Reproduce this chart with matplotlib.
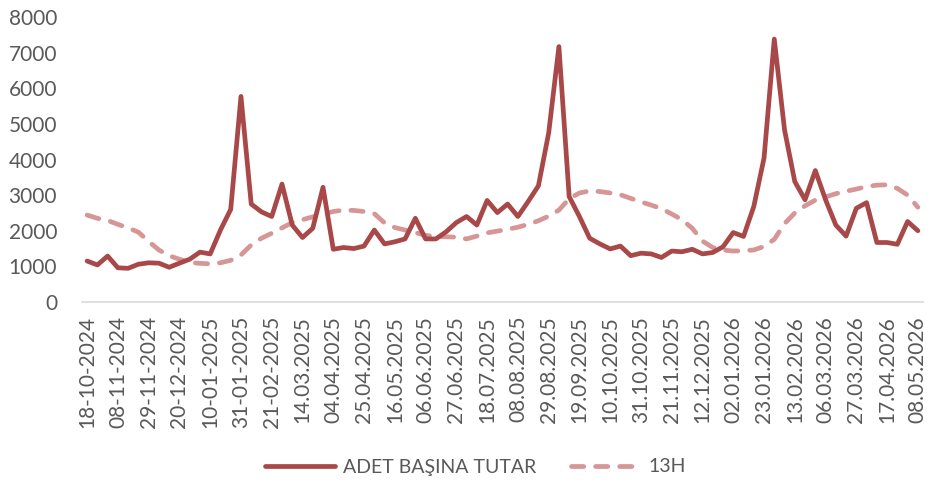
import matplotlib
matplotlib.use("Agg")
import matplotlib.pyplot as plt

adet_basina_tutar = [
    1150, 1040, 1290, 960, 945, 1060, 1100, 1090, 975, 1090,
    1200, 1400, 1350, 2020, 2600, 5770, 2750, 2530, 2400, 3310,
    2160, 1810, 2070, 3220, 1480, 1530, 1500, 1570, 2020, 1630,
    1690, 1770, 2350, 1770, 1770, 1970, 2230, 2400, 2160, 2850,
    2510, 2750, 2400, 2820, 3260, 4740, 7170, 2960, 2400, 1790,
    1630, 1490, 1570, 1300, 1370, 1350, 1250, 1430, 1410, 1480,
    1350, 1390, 1550, 1950, 1840, 2680, 4040, 7380, 4830, 3380,
    2870, 3690, 2870, 2160, 1850, 2630, 2790, 1670, 1670, 1620,
    2260, 2000,
]

h13 = [
    2440, 2350, 2290, 2180, 2080, 1960, 1700, 1460, 1300, 1200,
    1110, 1085, 1070, 1100, 1170, 1320, 1600, 1790, 1930, 2080,
    2230, 2310, 2390, 2470, 2540, 2580, 2570, 2540, 2480, 2220,
    2090, 2020, 1950, 1870, 1840, 1830, 1820, 1770, 1850, 1940,
    1990, 2040, 2100, 2180, 2280, 2410, 2580, 2900, 3060, 3120,
    3100, 3060, 3010, 2910, 2810, 2720, 2620, 2470, 2310, 2070,
    1710, 1530, 1460, 1430, 1440, 1460, 1560, 1760, 2200, 2500,
    2700, 2860, 2950, 3040, 3110, 3170, 3240, 3280, 3290, 3190,
    3000, 2660,
]

tick_labels = [
    "18-10-2024", "08-11-2024", "29-11-2024", "20-12-2024", "10-01-2025",
    "31-01-2025", "21-02-2025", "14.03.2025", "04.04.2025", "25.04.2025",
    "16.05.2025", "06.06.2025", "27.06.2025", "18.07.2025", "08.08.2025",
    "29.08.2025", "19.09.2025", "10.10.2025", "31.10.2025", "21.11.2025",
    "12.12.2025", "02.01.2026", "23.01.2026", "13.02.2026", "06.03.2026",
    "27.03.2026", "17.04.2026", "08.05.2026",
]

series_names = ["ADET BAŞINA TUTAR", "13H"]

plt.rcParams['font.family'] = ['Lato', 'DejaVu Sans']

fig = plt.figure(figsize=(9.32, 4.82), dpi=100)
ax = fig.add_axes([82/932, 1 - 302/482, (923 - 82)/932, (302 - 17)/482])

x = list(range(len(adet_basina_tutar)))
ax.plot(x, adet_basina_tutar, color='#A84848', linewidth=3.4,
        solid_joinstyle='round', solid_capstyle='round', label=series_names[0], zorder=3)
ax.plot(x, h13, color='#D69696', linewidth=3.4, linestyle=(0, (2.6, 2.5)),
        dash_capstyle='round', label=series_names[1], zorder=2)

ax.set_xlim(-0.5, len(x) - 0.5)
ax.set_ylim(0, 8000)
ax.set_yticks(range(0, 8001, 1000))
ax.set_xticks(list(range(0, len(x), 3)))
ax.set_xticklabels(tick_labels, rotation=90)

for s in ['top', 'right', 'left']:
    ax.spines[s].set_visible(False)
ax.spines['bottom'].set_color('#D9D9D9')
ax.spines['bottom'].set_linewidth(1.2)

ax.tick_params(axis='both', length=0, labelsize=15, labelcolor='#595959')
ax.tick_params(axis='y', pad=18)
ax.tick_params(axis='x', pad=10)

leg = fig.legend(loc='center', bbox_to_anchor=(0.51, 1 - 467/482), ncol=2,
                 frameon=False, fontsize=14, handlelength=3.6, columnspacing=1.8,
                 handletextpad=0.4)
for t in leg.get_texts():
    t.set_color('#595959')

fig.savefig('out.png', dpi=100)
